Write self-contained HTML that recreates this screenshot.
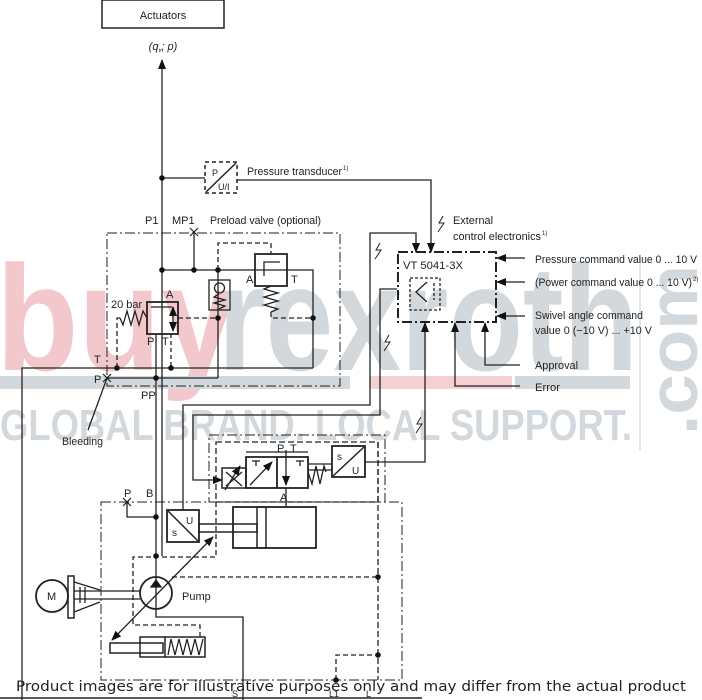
<!DOCTYPE html>
<html><head><meta charset="utf-8"><style>
html,body{margin:0;padding:0;background:#fff;}
svg{display:block;}
text{font-family:"Liberation Sans",sans-serif;fill:#222;}
</style></head><body>
<svg width="702" height="700" viewBox="0 0 702 700" xmlns="http://www.w3.org/2000/svg">
<defs>
<marker id="ah" markerWidth="10" markerHeight="8" refX="9" refY="4" orient="auto" markerUnits="userSpaceOnUse"><path d="M0,0 L10,4 L0,8z" fill="#111"/></marker>
<marker id="ahs" markerWidth="10" markerHeight="8" refX="1" refY="4" orient="auto" markerUnits="userSpaceOnUse"><path d="M10,0 L0,4 L10,8z" fill="#111"/></marker>
</defs>
<!-- watermark -->
<g opacity="0.5">
<text x="-4" y="370" font-size="150" font-weight="bold" style="fill:#e8939c" textLength="240" lengthAdjust="spacingAndGlyphs">buy</text>
<text x="218" y="370" font-size="150" font-weight="bold" style="fill:#a9b3bd" textLength="420" lengthAdjust="spacingAndGlyphs">rexroth</text>
<rect x="0" y="376" width="350" height="13" fill="#a9b3bd"/>
<rect x="370" y="376" width="142" height="13" fill="#eaa0a8"/>
<rect x="515" y="376" width="115" height="13" fill="#a9b3bd"/>
<text x="0" y="440" font-size="44" font-weight="bold" style="fill:#a9b3bd" textLength="632" lengthAdjust="spacingAndGlyphs">GLOBAL BRAND. LOCAL SUPPORT.</text>
<line x1="640" y1="258" x2="640" y2="450" stroke="#c8ced4" stroke-width="2"/>
<text transform="translate(697,435) rotate(-90)" font-size="70" font-weight="bold" style="fill:#a9b3bd" textLength="170" lengthAdjust="spacingAndGlyphs">.com</text>
</g>

<g stroke="#222" stroke-width="1.3" fill="none">
<rect x="102" y="0" width="122" height="28" stroke-width="1.5"/>
<line x1="162" y1="556" x2="162" y2="60" marker-end="url(#ah)"/>
<line x1="162" y1="178" x2="205" y2="178"/>
<rect x="205" y="162" width="32" height="31" stroke-dasharray="4,3" stroke-width="1.5"/>
<line x1="206" y1="192" x2="236" y2="163" stroke-width="1.5"/>
<polyline points="237,180 431,180 431,252" marker-end="url(#ah)"/>
<rect x="107" y="233" width="233" height="153" stroke-dasharray="10,3,2,3" stroke-width="1"/>
<line x1="194" y1="232" x2="194" y2="270"/>
<polyline points="162,270 313,270 313,368"/>
<polyline points="218,270 218,243 271,243 271,254" stroke-dasharray="5,3"/>
<rect x="255" y="254" width="32" height="32" stroke-width="1.8"/>
<polyline points="264,276 264,262 280,262" stroke-width="1.3"/>
<polyline points="271,286 264,289 278,293 264,297 278,301 264,305 278,309 271,312"/>
<polyline points="271,312 271,318 313,318" stroke-dasharray="5,3"/>
<rect x="209" y="280" width="21" height="30"/>
<circle cx="219.5" cy="288" r="5"/>
<polyline points="219,294 214,297 225,300 214,303 225,306 219,309"/>
<line x1="218" y1="270" x2="218" y2="378"/>
<rect x="147" y="302" width="31" height="32" stroke-width="1.8"/>
<polyline points="151,307 172,307"/>
<line x1="173" y1="307" x2="173" y2="331" marker-start="url(#ahs)" marker-end="url(#ah)"/>
<polyline points="147,318 143,311 139,325 135,311 131,325 127,311 123,325 120,318"/>
<line x1="178" y1="318" x2="218" y2="318" stroke-dasharray="5,3"/>
<polyline points="117,368 117,318 122,318" stroke-dasharray="5,3"/>
<line x1="171" y1="334" x2="171" y2="368" stroke-dasharray="4,3"/>
<line x1="156" y1="334" x2="156" y2="610"/>
<polyline points="22,700 22,368 313,368"/>
<line x1="107" y1="378" x2="218" y2="378"/>
<line x1="107" y1="378" x2="88" y2="430"/>
<polyline points="183,510 183,405 370,405 370,233 416,233 416,252" marker-end="url(#ah)"/>
<polyline points="222,480 193,480 193,415 380,415 380,289 397,289" marker-start="url(#ahs)"/>
<polyline points="365,462 425,462 425,323" marker-end="url(#ah)"/>
<rect x="398" y="252" width="98" height="70" stroke-dasharray="10,3,2,3" stroke-width="2"/>
<rect x="410" y="278" width="30" height="32" stroke-dasharray="3,2"/>
<polyline points="427,282 416,292 427,302" />
<line x1="434" y1="283" x2="434" y2="300" stroke-dasharray="3,2"/>
<line x1="525" y1="258" x2="497" y2="258" marker-end="url(#ah)"/>
<line x1="525" y1="282" x2="497" y2="282" marker-end="url(#ah)"/>
<line x1="525" y1="316" x2="497" y2="316" marker-end="url(#ah)"/>
<polyline points="520,365 485,365 485,323" marker-end="url(#ah)"/>
<polyline points="455,323 455,386 520,386" marker-start="url(#ahs)"/>
<polyline points="443,216 439,223 444,223 438,232" stroke-width="1"/>
<polyline points="380,243 376,250 381,250 375,259" stroke-width="1"/>
<polyline points="389,335 385,342 390,342 384,351" stroke-width="1"/>
<polyline points="421,417 417,424 422,424 416,433" stroke-width="1"/>
<rect x="209" y="435" width="176" height="67" stroke-dasharray="10,3,2,3" stroke-width="1"/>
<rect x="216" y="442" width="162" height="60" stroke-dasharray="6,3"/>
<rect x="246" y="457" width="62" height="31" stroke-width="1.8"/>
<line x1="277" y1="457" x2="277" y2="488" stroke-width="1.8"/>
<line x1="286" y1="450" x2="286" y2="485" marker-end="url(#ah)"/>
<line x1="250" y1="485" x2="272" y2="462" marker-end="url(#ah)"/>
<line x1="256" y1="461" x2="256" y2="466"/><line x1="252" y1="461" x2="260" y2="461"/>
<line x1="300" y1="461" x2="300" y2="466"/><line x1="296" y1="461" x2="304" y2="461"/>
<line x1="246" y1="452" x2="308" y2="452"/>
<line x1="286" y1="488" x2="286" y2="507"/>
<rect x="222" y="468" width="24" height="20" stroke-width="1.5"/>
<line x1="226" y1="472" x2="242" y2="486"/><line x1="242" y1="472" x2="226" y2="486"/>
<line x1="225" y1="490" x2="240" y2="466" marker-end="url(#ah)"/>
<polyline points="308,472 312,484 316,466 320,484 324,466 326,472"/>
<line x1="308" y1="470" x2="332" y2="470"/><line x1="308" y1="464" x2="332" y2="464"/>
<rect x="332" y="446" width="33" height="31" stroke-width="1.8"/>
<line x1="333" y1="476" x2="364" y2="447" stroke-width="1.5"/>
<rect x="101" y="502" width="301" height="178" stroke-dasharray="10,3,2,3" stroke-width="1"/>
<polyline points="127,502 127,517 156,517"/>
<rect x="167" y="510" width="32" height="32" stroke-width="1.8"/>
<line x1="168" y1="511" x2="198" y2="541" stroke-width="1.5"/>
<rect x="233" y="507" width="83" height="41" stroke-width="1.8"/>
<rect x="257" y="507" width="9" height="41" stroke-width="1.5"/>
<rect x="199" y="524" width="58" height="8" stroke-width="1.5"/>
<polyline points="216,502 216,557 133,557 133,625 200,625 200,637" stroke-dasharray="5,3"/>
<polyline points="172,577 378,577" stroke-dasharray="5,3"/>
<line x1="378" y1="442" x2="378" y2="680" stroke-dasharray="6,3"/>
<polyline points="336,680 336,655 378,655" stroke-dasharray="5,3"/>
<circle cx="156" cy="593" r="16" stroke-width="1.8"/>
<path d="M151,587 L161,587 L156,580z" fill="#111"/>
<line x1="112" y1="640" x2="213" y2="537" marker-start="url(#ahs)" marker-end="url(#ah)"/>
<polyline points="156,609 156,617 243,617 243,700"/>
<circle cx="52" cy="596" r="16" stroke-width="1.8"/>
<rect x="68" y="576" width="6" height="42" stroke-width="1.5"/>
<path d="M74,582 L100,590 M74,612 L100,602" />
<line x1="74" y1="591" x2="140" y2="591"/><line x1="74" y1="599" x2="140" y2="599"/>
<line x1="80" y1="587" x2="80" y2="603"/><line x1="85" y1="587" x2="85" y2="603"/>
<rect x="110" y="643" width="53" height="10" stroke-width="1.5"/>
<rect x="140" y="637" width="65" height="20" stroke-width="1.5"/>
<line x1="165" y1="637" x2="165" y2="657" stroke-width="1.5"/>
<polyline points="168,655 171,639 175,655 179,639 183,655 187,639 191,655 195,639 199,655 203,639"/>
<line x1="0" y1="698" x2="422" y2="698" stroke-width="1.5"/>
</g>
<g fill="#111">
<circle cx="162" cy="178" r="2.8"/><circle cx="162" cy="270" r="2.8"/><circle cx="194" cy="270" r="2.8"/><circle cx="218" cy="270" r="2.8"/>
<circle cx="218" cy="318" r="2.8"/><circle cx="313" cy="318" r="2.8"/><circle cx="117" cy="368" r="2.8"/><circle cx="171" cy="368" r="2.8"/>
<circle cx="156" cy="378" r="2.8"/><circle cx="156" cy="517" r="2.8"/><circle cx="156" cy="556" r="2.8"/>
<circle cx="378" cy="577" r="2.8"/><circle cx="378" cy="655" r="2.8"/><circle cx="336" cy="680" r="2.8"/>
</g>
<g stroke="#222" stroke-width="1.2">
<line x1="190" y1="228" x2="198" y2="236"/><line x1="198" y1="228" x2="190" y2="236"/>
<line x1="103" y1="374" x2="111" y2="382"/><line x1="111" y1="374" x2="103" y2="382"/>
<line x1="123" y1="498" x2="131" y2="506"/><line x1="131" y1="498" x2="123" y2="506"/>
</g>
<g font-size="11">
<text x="163" y="19" text-anchor="middle">Actuators</text>
<text x="163" y="50" text-anchor="middle" font-style="italic">(q<tspan font-size="6" dy="2">v</tspan><tspan dy="-2">; p)</tspan></text>
<text x="212" y="176" font-size="9">P</text><text x="218" y="190" font-size="9">U/I</text>
<text x="247" y="175" textLength="95" lengthAdjust="spacingAndGlyphs">Pressure transducer</text><text x="343" y="170" font-size="6">1)</text>
<text x="145" y="224">P1</text><text x="172" y="224">MP1</text>
<text x="210" y="224" textLength="111" lengthAdjust="spacingAndGlyphs">Preload valve (optional)</text>
<text x="246" y="283">A</text><text x="291" y="283">T</text>
<text x="111" y="308">20 bar</text><text x="166" y="298">A</text>
<text x="147" y="345">P</text><text x="162" y="345">T</text>
<text x="94" y="363">T</text><text x="94" y="383">P</text>
<text x="141" y="399">PP</text><text x="62" y="445" textLength="41" lengthAdjust="spacingAndGlyphs">Bleeding</text>
<text x="453" y="224" textLength="40" lengthAdjust="spacingAndGlyphs">External</text>
<text x="453" y="240" textLength="88" lengthAdjust="spacingAndGlyphs">control electronics</text><text x="542" y="235" font-size="6">1)</text>
<text x="403" y="269" textLength="60" lengthAdjust="spacingAndGlyphs">VT 5041-3X</text>
<text x="535" y="263" textLength="162" lengthAdjust="spacingAndGlyphs">Pressure command value 0 ... 10 V</text>
<text x="535" y="286" textLength="157" lengthAdjust="spacingAndGlyphs">(Power command value 0 ... 10 V)</text><text x="693" y="281" font-size="6">2)</text>
<text x="535" y="319" textLength="108" lengthAdjust="spacingAndGlyphs">Swivel angle command</text>
<text x="535" y="334" textLength="117" lengthAdjust="spacingAndGlyphs">value 0 (−10 V) ... +10 V</text>
<text x="535" y="369" textLength="43" lengthAdjust="spacingAndGlyphs">Approval</text>
<text x="535" y="391" textLength="25" lengthAdjust="spacingAndGlyphs">Error</text>
<text x="277" y="452">P</text><text x="290" y="452">T</text>
<text x="280" y="501">A</text>
<text x="337" y="460" font-size="10">s</text><text x="352" y="474" font-size="10">U</text>
<text x="124" y="497">P</text><text x="146" y="497">B</text>
<text x="186" y="524" font-size="10">U</text><text x="172" y="536" font-size="10">s</text>
<text x="182" y="600">Pump</text>
<text x="47" y="600">M</text>
<text x="232" y="697" font-size="9">S</text><text x="329" y="697" font-size="9">L1</text><text x="366" y="697" font-size="9">L</text>
</g>
<text x="16" y="691" style="font-family:'DejaVu Sans',sans-serif" font-size="14.5" textLength="670" lengthAdjust="spacingAndGlyphs">Product images are for illustrative purposes only and may differ from the actual product</text>
</svg>
</body></html>
